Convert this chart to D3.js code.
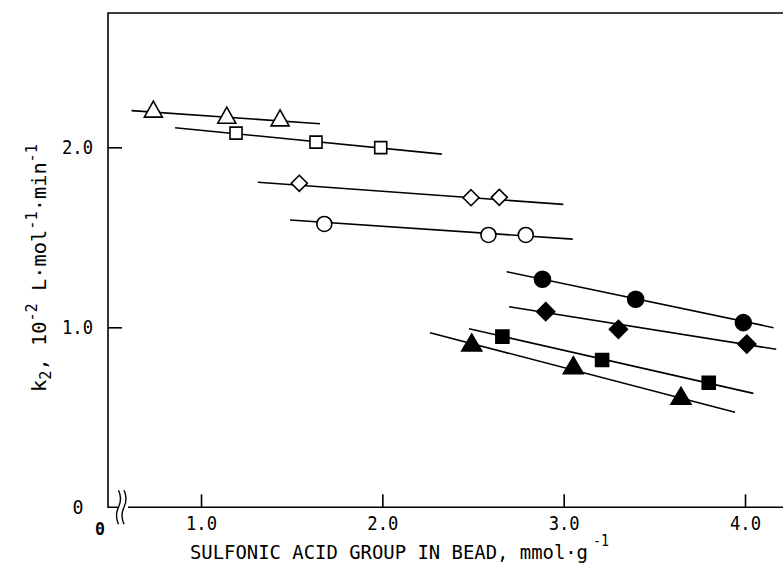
<!DOCTYPE html>
<html>
<head>
<meta charset="utf-8">
<script src="https://cdn.jsdelivr.net/npm/d3@7/dist/d3.min.js"></script>
<style>
  html, body { margin: 0; padding: 0; background: #fff; }
  svg { display: block; }
  text { font-family: "DejaVu Sans Mono", "Liberation Mono", monospace; fill: #000; }
</style>
</head>
<body>
<svg id="chart" width="783" height="575"></svg>
<script>
// ---- Data ----
const xTicks = [1, 2, 3, 4];
const xTickLabels = ["1.0", "2.0", "3.0", "4.0"];
const yTicks = [1, 2];
const yTickLabels = ["1.0", "2.0"];

const seriesNames = ["openTriangle", "openSquare", "openDiamond", "openCircle",
                     "filledCircle", "filledDiamond", "filledSquare", "filledTriangle"];

// point coordinates per series
const openTriangleX = [0.737, 1.142, 1.436];
const openTriangleY = [2.204, 2.170, 2.155];
const openSquareX = [1.193, 1.634, 1.991];
const openSquareY = [2.079, 2.029, 1.998];
const openDiamondX = [1.542, 2.489, 2.645];
const openDiamondY = [1.800, 1.720, 1.722];
const openCircleX = [1.680, 2.585, 2.791];
const openCircleY = [1.574, 1.513, 1.513];
const filledCircleX = [2.883, 3.397, 3.991];
const filledCircleY = [1.267, 1.156, 1.026];
const filledDiamondX = [2.901, 3.302, 4.010];
const filledDiamondY = [1.087, 0.989, 0.907];
const filledSquareX = [2.662, 3.212, 3.800];
const filledSquareY = [0.948, 0.818, 0.692];
const filledTriangleX = [2.493, 3.053, 3.647];
const filledTriangleY = [0.907, 0.781, 0.611];

// fitted line end points per series [x0, x1], [y0, y1]
const openTriangleLineX = [0.617, 1.656];
const openTriangleLineY = [2.204, 2.131];
const openSquareLineX = [0.857, 2.328];
const openSquareLineY = [2.109, 1.962];
const openDiamondLineX = [1.313, 2.998];
const openDiamondLineY = [1.806, 1.683];
const openCircleLineX = [1.491, 3.050];
const openCircleLineY = [1.596, 1.490];
const filledCircleLineX = [2.686, 4.157];
const filledCircleLineY = [1.309, 0.998];
const filledDiamondLineX = [2.699, 4.172];
const filledDiamondLineY = [1.114, 0.878];
const filledSquareLineX = [2.478, 4.046];
const filledSquareLineY = [0.992, 0.633];
const filledTriangleLineX = [2.263, 3.945];
const filledTriangleLineY = [0.970, 0.528];

// ---- Build series table ----
const pts = {
  openTriangle: [openTriangleX, openTriangleY, openTriangleLineX, openTriangleLineY, "triangle", false],
  openSquare: [openSquareX, openSquareY, openSquareLineX, openSquareLineY, "square", false],
  openDiamond: [openDiamondX, openDiamondY, openDiamondLineX, openDiamondLineY, "diamond", false],
  openCircle: [openCircleX, openCircleY, openCircleLineX, openCircleLineY, "circle", false],
  filledCircle: [filledCircleX, filledCircleY, filledCircleLineX, filledCircleLineY, "circle", true],
  filledDiamond: [filledDiamondX, filledDiamondY, filledDiamondLineX, filledDiamondLineY, "diamond", true],
  filledSquare: [filledSquareX, filledSquareY, filledSquareLineX, filledSquareLineY, "square", true],
  filledTriangle: [filledTriangleX, filledTriangleY, filledTriangleLineX, filledTriangleLineY, "triangle", true]
};
const series = seriesNames.map(n => {
  const [xs, ys, lx, ly, shape, filled] = pts[n];
  return {
    name: n, shape, filled,
    points: xs.map((x, i) => ({x, y: ys[i]})),
    line: lx.map((x, i) => ({x, y: ly[i]}))
  };
});

// ---- Layout ----
const svg = d3.select("#chart");
const frameLeft = 108, frameTop = 13, frameRight = 783;
const x = d3.scaleLinear().domain([0, 4]).range([19.7, 745]);
const y = d3.scaleLinear().domain([0, 2]).range([507.3, 147.3]);
const yBase = y(0);

// frame: left + top
svg.append("path")
  .attr("d", `M${frameRight},${frameTop}H${frameLeft}V${yBase}H${frameLeft + 10}`)
  .attr("fill", "none").attr("stroke", "#000").attr("stroke-width", 1.6);

// bottom axis (after break)
const xAxis = d3.axisBottom(x).tickValues(xTicks).tickSize(-13).tickPadding(8)
  .tickFormat((d, i) => xTickLabels[i]);
const gx = svg.append("g").attr("transform", `translate(0,${yBase})`).call(xAxis);
gx.select(".domain").remove();
gx.selectAll(".tick line").attr("stroke", "#000").attr("stroke-width", 1.6);
gx.selectAll(".tick text").attr("font-size", 20).attr("font-family", "DejaVu Sans Mono")
  .attr("dy", "0.75em").attr("textLength", 31).attr("lengthAdjust", "spacingAndGlyphs");
svg.append("line")
  .attr("x1", frameLeft + 20).attr("x2", frameRight)
  .attr("y1", yBase).attr("y2", yBase)
  .attr("stroke", "#000").attr("stroke-width", 1.6);

// axis break squiggles
[118.5, 124].forEach(bx => {
  svg.append("path")
    .attr("d", `M${bx},${yBase - 17} q4,8 0,17 q-4,8 0,17`)
    .attr("fill", "none").attr("stroke", "#000").attr("stroke-width", 1.4);
});

// left axis ticks
const yAxis = d3.axisLeft(y).tickValues(yTicks).tickSize(-14).tickPadding(15)
  .tickFormat((d, i) => yTickLabels[i]);
const gy = svg.append("g").attr("transform", `translate(${frameLeft},0)`).call(yAxis);
gy.select(".domain").remove();
gy.selectAll(".tick line").attr("stroke", "#000").attr("stroke-width", 1.6);
gy.selectAll(".tick text").attr("font-size", 20).attr("font-family", "DejaVu Sans Mono")
  .attr("textLength", 31).attr("lengthAdjust", "spacingAndGlyphs");

// zero labels
svg.append("text").attr("x", 78).attr("y", yBase).attr("dy", "0.35em")
  .attr("text-anchor", "middle").attr("font-size", 20)
  .attr("textLength", 11).attr("lengthAdjust", "spacingAndGlyphs").text("0");
svg.append("text").attr("x", 100).attr("y", yBase + 21).attr("dy", "0.35em")
  .attr("text-anchor", "middle").attr("font-size", 18).attr("font-weight", "bold")
  .attr("textLength", 10).attr("lengthAdjust", "spacingAndGlyphs").text("0");

// x axis title (main text + separate superscript)
svg.append("text").attr("x", 190).attr("y", 559).attr("font-size", 18.8)
  .attr("textLength", 398).attr("lengthAdjust", "spacingAndGlyphs")
  .text("SULFONIC ACID GROUP IN BEAD, mmol\u00B7g");
svg.append("text").attr("x", 593).attr("y", 546).attr("font-size", 15)
  .attr("textLength", 16).attr("lengthAdjust", "spacingAndGlyphs").text("-1");

// y axis title
const yt = svg.append("text")
  .attr("transform", "translate(46,392) rotate(-90)")
  .attr("font-size", 20).attr("textLength", 248).attr("lengthAdjust", "spacingAndGlyphs");
yt.append("tspan").text("k");
yt.append("tspan").attr("dy", 5).attr("font-size", 15).text("2");
yt.append("tspan").attr("dy", -5).text(", 10");
yt.append("tspan").attr("dy", -9).attr("font-size", 15).text("-2");
yt.append("tspan").attr("dy", 9).text(" L\u00B7mol");
yt.append("tspan").attr("dy", -9).attr("font-size", 15).text("-1");
yt.append("tspan").attr("dy", 9).text("\u00B7min");
yt.append("tspan").attr("dy", -9).attr("font-size", 15).text("-1");

// lines
const lineGen = d3.line().x(d => x(d.x)).y(d => y(d.y));
svg.append("g").selectAll("path").data(series).join("path")
  .attr("d", d => lineGen(d.line))
  .attr("fill", "none").attr("stroke", "#000").attr("stroke-width", 1.6);

// markers
function markerPath(shape, filled) {
  switch (shape) {
    case "triangle": return filled ? "M0,-10L10,7L-10,7Z" : "M0,-9.5L9,6.5L-9,6.5Z";
    case "square": return filled ? "M-6.5,-6.5H6.5V6.5H-6.5Z" : "M-6,-6H6V6H-6Z";
    case "diamond": return filled ? "M0,-9L9,0L0,9L-9,0Z" : "M0,-8L8,0L0,8L-8,0Z";
    default: return null;
  }
}
const mg = svg.append("g");
series.forEach(s => {
  const g = mg.append("g");
  const sel = g.selectAll(".m").data(s.points).join(s.shape === "circle" ? "circle" : "path")
    .attr("fill", s.filled ? "#000" : "#fff")
    .attr("stroke", "#000").attr("stroke-width", 1.6);
  if (s.shape === "circle") {
    sel.attr("cx", d => x(d.x)).attr("cy", d => y(d.y)).attr("r", s.filled ? 8 : 7.5);
  } else {
    sel.attr("d", markerPath(s.shape, s.filled))
      .attr("transform", d => `translate(${x(d.x)},${y(d.y)})`);
  }
});
</script>
</body>
</html>
